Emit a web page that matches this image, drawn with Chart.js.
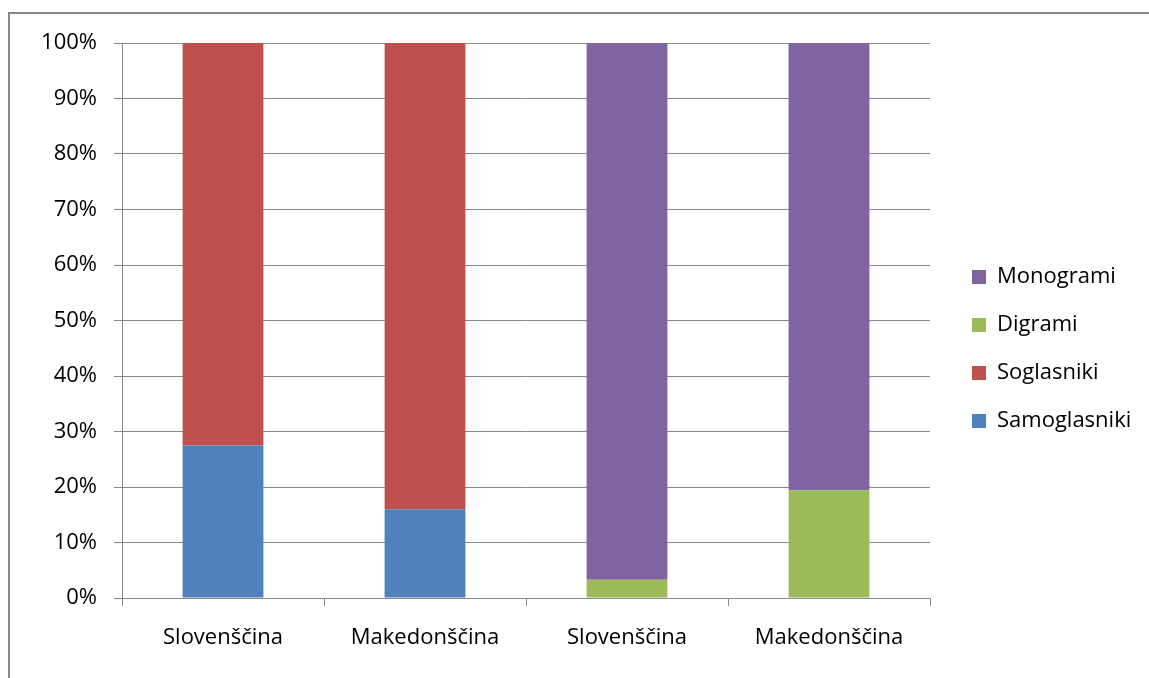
<!DOCTYPE html>
<html>
<head>
<meta charset="utf-8">
<script src="https://cdn.jsdelivr.net/npm/chart.js@4/dist/chart.umd.min.js"></script>
<style>
  body { margin: 0; background: #fff; }
  #frame { position: absolute; left: 8px; top: 12px; width: 1200px; height: 800px; border: 2px solid #888; }
  #wrap { position: absolute; left: 0; top: 0; width: 1149px; height: 678px; }
</style>
</head>
<body>
<div id="frame"></div>
<div id="wrap"><canvas id="chart" width="1149" height="678"></canvas></div>
<script>
// podatki
let categories = ['Slovenščina', 'Makedonščina', 'Slovenščina', 'Makedonščina'];
let samoglasniki = [27.5, 16.0, null, null];
let soglasniki = [72.5, 84.0, null, null];
let digrami = [null, null, 3.3, 19.4];
let monogrami = [null, null, 96.7, 80.6];
let yTicks = [0, 10, 20, 30, 40, 50, 60, 70, 80, 90, 100];

let gridColor = '#878787';
let font = { family: 'Open Sans', size: 22 };

// legenda: fiksna širina in premik desno
let legendFix = {
    id: 'legendFix',
    beforeLayout(chart) {
        let lg = chart.legend;
        if (lg && !lg._fixed) {
            let origFit = lg.fit.bind(lg);
            lg.fit = function () { origFit(); this.width = 219; };
            lg._fixed = true;
        }
    },
    afterLayout(chart) {
        chart.legend.left += 16;
        chart.legend.right += 16;
    }
};

function makeDataset(label, data, color) {
    return { label: label, data: data, backgroundColor: color, borderWidth: 0 };
}

let ctx = document.getElementById('chart').getContext('2d');
let chart = new Chart(ctx, {
    type: 'bar',
    data: {
        labels: categories,
        datasets: [
            makeDataset('Samoglasniki', samoglasniki, '#4F81BD'),
            makeDataset('Soglasniki', soglasniki, '#C0504D'),
            makeDataset('Digrami', digrami, '#9BBB59'),
            makeDataset('Monogrami', monogrami, '#8064A2')
        ]
    },
    plugins: [legendFix],
    options: {
        responsive: false,
        animation: false,
        layout: { padding: { top: 43, bottom: 23, left: 10, right: 0 } },
        datasets: { bar: { categoryPercentage: 1, barPercentage: 0.4 } },
        plugins: {
            tooltip: { enabled: false },
            legend: {
                position: 'right',
                reverse: true,
                labels: { font: font, color: '#000', boxWidth: 14, boxHeight: 14, padding: 26 }
            }
        },
        scales: {
            x: {
                stacked: true,
                afterFit: s => { s.height = 57; },
                grid: { offset: true, drawOnChartArea: false, color: gridColor, tickLength: 8 },
                border: { color: gridColor },
                ticks: { font: font, color: '#000', padding: 19, maxRotation: 0 }
            },
            y: {
                stacked: true,
                min: 0,
                max: 100,
                afterFit: s => { s.width = 112; },
                afterBuildTicks: s => { s.ticks = yTicks.map(v => ({ value: v })); },
                grid: { color: gridColor, tickLength: 8 },
                border: { color: gridColor },
                ticks: { font: font, color: '#000', padding: 17, callback: v => v + '%' }
            }
        }
    }
});
</script>
</body>
</html>
